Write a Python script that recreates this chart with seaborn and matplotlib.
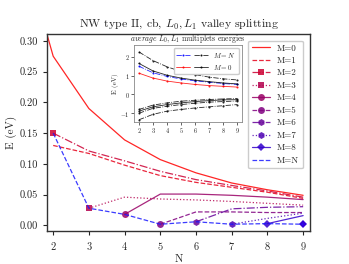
import numpy as np
import pandas as pd
import matplotlib
matplotlib.use('Agg')
import matplotlib.pyplot as plt
from matplotlib.ticker import FormatStrFormatter
from matplotlib.legend_handler import HandlerTuple
import seaborn as sns

# valley splitting (eV) for each multiplet M, starting at N = M
N_all = [2, 3, 4, 5, 6, 7, 8, 9]
N_m0 = [1, 2, 3, 4, 5, 6, 7, 8, 9]
split_m0 = [0.48, 0.275, 0.19, 0.139, 0.107, 0.0855, 0.069, 0.058, 0.049]
split_m1 = [0.130, 0.117, 0.098, 0.081, 0.070, 0.062, 0.054, 0.044]
split_m2 = [0.150, 0.121, 0.105, 0.088, 0.0745, 0.065, 0.056, 0.046]
split_m3 = [0.028, 0.046, 0.043, 0.0415, 0.039, 0.036, 0.033]
split_m4 = [0.018, 0.051, 0.051, 0.049, 0.046, 0.042]
split_m5 = [0.002, 0.022, 0.022, 0.021, 0.021]
split_m6 = [0.006, 0.027, 0.0295, 0.0305]
split_m7 = [0.002, 0.0115, 0.020]
split_m8 = [0.003, 0.016]
split_m9 = [0.002]
split_mN = [0.150, 0.028, 0.018, 0.002, 0.006, 0.002, 0.003, 0.002]

# inset: average L0, L1 multiplet energies (eV)
avg_top_black = [2.26, 1.80, 1.47, 1.22, 1.05, 0.92, 0.83, 0.77]
avg_black_m0 = [1.65, 1.25, 1.02, 0.87, 0.76, 0.68, 0.61, 0.56]
avg_blue_mN = [1.50, 1.15, 0.96, 0.82, 0.72, 0.65, 0.58, 0.53]
avg_red_m0 = [1.13, 0.87, 0.71, 0.61, 0.53, 0.47, 0.43, 0.39]
avg_low_1 = [-0.80, -0.57, -0.45, -0.36, -0.31, -0.27, -0.24, -0.22]
avg_low_2 = [-0.89, -0.66, -0.54, -0.45, -0.38, -0.33, -0.29, -0.28]
avg_low_3 = [-1.00, -0.74, -0.63, -0.54, -0.47, -0.41, -0.38, -0.35]
avg_low_4 = [-1.35, -1.06, -0.89, -0.80, -0.72, -0.66, -0.60, -0.54]

sns.set_style('ticks')
plt.rcParams['font.family'] = ['cmr10', 'DejaVu Serif']
plt.rcParams['mathtext.fontset'] = 'cm'
plt.rcParams['axes.formatter.use_mathtext'] = True
plt.rcParams['axes.edgecolor'] = '#333333'

fig = plt.figure(figsize=(3.49, 2.64), dpi=100)
ax = fig.add_axes([0.135, 0.125, 0.753, 0.746])

series = [
    ('M=0', N_m0, split_m0, '-', None),
    ('M=1', N_all, split_m1, '--', None),
    ('M=2', N_all, split_m2, '-.', 's'),
    ('M=3', N_all[1:], split_m3, ':', 's'),
    ('M=4', N_all[2:], split_m4, '-', 'o'),
    ('M=5', N_all[3:], split_m5, '--', 'o'),
    ('M=6', N_all[4:], split_m6, '-.', 'h'),
    ('M=7', N_all[5:], split_m7, ':', 'h'),
    ('M=8', N_all[6:], split_m8, '-', 'D'),
]
for i, (lab, xs, ys, ls, mk) in enumerate(series):
    t = i / 10
    col = (1 - t, 0, t)
    df = pd.DataFrame({'N': xs, 'E': ys})
    kw = {}
    if mk is not None:
        kw = dict(marker=mk, markevery=[0], markersize=5 if mk != 'D' else 4,
                  markeredgewidth=0)
    sns.lineplot(data=df, x='N', y='E', ax=ax, color=col, linestyle=ls,
                 lw=0.9, alpha=0.85, label=lab, estimator=None, **kw)

df9 = pd.DataFrame({'N': [9], 'E': split_m9})
sns.lineplot(data=df9, x='N', y='E', ax=ax, color=(0.2, 0, 0.85), marker='D',
             markersize=4, markeredgewidth=0, label='_nolegend_', estimator=None)

dfN = pd.DataFrame({'N': N_all, 'E': split_mN})
sns.lineplot(data=dfN, x='N', y='E', ax=ax, color=(0.1, 0.1, 1.0), linestyle='--',
             lw=0.9, alpha=0.85, label='M=N', estimator=None)

ax.set_xlim(1.83, 9.19)
ax.set_ylim(-0.009, 0.311)
ax.set_xticks(N_all)
ax.set_yticks([0.0, 0.05, 0.10, 0.15, 0.20, 0.25, 0.30])
ax.yaxis.set_major_formatter(FormatStrFormatter('%.2f'))
ax.tick_params(labelsize=7.5, length=3, width=0.8)
ax.set_xlabel('N', fontsize=8, labelpad=2)
ax.set_ylabel('E (eV)', fontsize=8, labelpad=2)
ax.set_title(r'NW type II, cb, $L_0, L_1$ valley splitting', fontsize=8.5, pad=5)
for s in ax.spines.values():
    s.set_linewidth(1.0)
ax.legend(loc='upper right', fontsize=6.5, handlelength=2.0, labelspacing=0.45,
          borderpad=0.4, frameon=True, edgecolor='#cccccc', framealpha=1,
          bbox_to_anchor=(0.99, 0.99))

# inset
axin = fig.add_axes([0.384, 0.537, 0.31, 0.294])
inset = [
    (avg_blue_mN, 'blue', '-.'),
    (avg_top_black, 'black', '-.'),
    (avg_red_m0, 'red', '-'),
    (avg_black_m0, 'black', '-'),
    (avg_low_1, 'black', '-.'),
    (avg_low_2, 'black', '-'),
    (avg_low_3, 'black', '-.'),
    (avg_low_4, 'black', '-.'),
]
handles = []
for ys, col, ls in inset:
    d = pd.DataFrame({'N': N_all, 'E': ys})
    sns.lineplot(data=d, x='N', y='E', ax=axin, color=col, linestyle=ls, lw=0.6,
                 marker='.', markersize=3, markeredgewidth=0, estimator=None,
                 alpha=0.85, legend=False)
    handles.append(axin.lines[-1])
axin.set_ylim(-1.48, 2.65)
axin.set_xticks(N_all)
axin.set_yticks([-1, 0, 1, 2])
axin.tick_params(labelsize=4.5, length=2, width=0.5, pad=1)
axin.set_xlabel('')
axin.set_ylabel('E (eV)', fontsize=5, labelpad=1)
axin.set_title(r'$\mathit{average}$ $L_0, L_1$ multiplets energies', fontsize=5.5, pad=2)
for s in axin.spines.values():
    s.set_linewidth(0.6)
    s.set_edgecolor('#888888')
axin.legend([(handles[0], handles[1]), (handles[2], handles[3])],
            [r'$M = N$', r'$M = 0$'],
            handler_map={tuple: HandlerTuple(ndivide=None, pad=0.6)},
            loc='upper right', fontsize=5, handlelength=4.5, frameon=True,
            edgecolor='#cccccc', framealpha=1, borderpad=0.4, labelspacing=0.4)

fig.savefig('out.png', dpi=100)
